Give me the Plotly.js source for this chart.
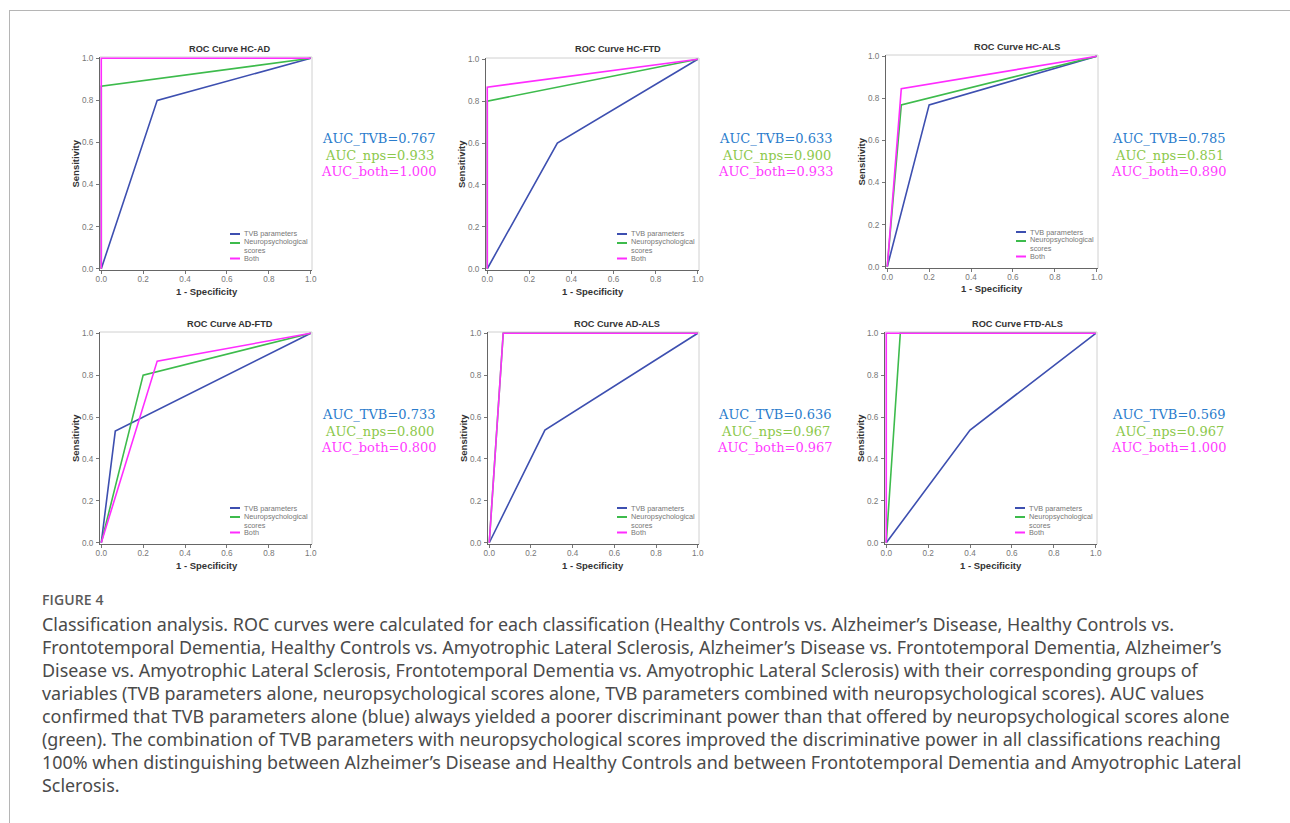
<!DOCTYPE html>
<html>
<head>
<meta charset="utf-8">
<script src="https://cdn.plot.ly/plotly-3.0.1.min.js"></script>
<style>
  html, body { margin:0; padding:0; background:#fff; }
  #wrap { position:relative; width:1290px; height:823px; overflow:hidden; }
  #chart { position:absolute; left:0; top:0; width:1290px; height:823px; }
  #frameTop { position:absolute; left:9px; top:10px; width:1281px; height:1px; background:#b5b5b5; }
  #frameLeft { position:absolute; left:9px; top:10px; width:1px; height:813px; background:#b5b5b5; }
  #figlabel { position:absolute; left:42px; top:590px; font-family:"Open Sans","Noto Sans",sans-serif; font-weight:600; font-size:14px; color:#5a5a5a; letter-spacing:0.1px; }
  #caption { position:absolute; left:42px; top:613px; font-family:"Noto Sans","Open Sans",sans-serif; font-size:17.9px; line-height:23px; color:#4a4a4a; white-space:nowrap; }
</style>
</head>
<body>
<div id="wrap">
  <div id="chart"></div>
  <div id="frameTop"></div>
  <div id="frameLeft"></div>
  <div id="figlabel">FIGURE 4</div>
  <div id="caption">Classification analysis. ROC curves were calculated for each classification (Healthy Controls vs. Alzheimer’s Disease, Healthy Controls vs.<br>Frontotemporal Dementia, Healthy Controls vs. Amyotrophic Lateral Sclerosis, Alzheimer’s Disease vs. Frontotemporal Dementia, Alzheimer’s<br>Disease vs. Amyotrophic Lateral Sclerosis, Frontotemporal Dementia vs. Amyotrophic Lateral Sclerosis) with their corresponding groups of<br>variables (TVB parameters alone, neuropsychological scores alone, TVB parameters combined with neuropsychological scores). AUC values<br>confirmed that TVB parameters alone (blue) always yielded a poorer discriminant power than that offered by neuropsychological scores alone<br>(green). The combination of TVB parameters with neuropsychological scores improved the discriminative power in all classifications reaching<br>100% when distinguishing between Alzheimer’s Disease and Healthy Controls and between Frontotemporal Dementia and Amyotrophic Lateral<br>Sclerosis.</div>
</div>
<script>
// ---------- data ----------
const panelTitles = ['ROC Curve HC-AD', 'ROC Curve HC-FTD', 'ROC Curve HC-ALS',
                     'ROC Curve AD-FTD', 'ROC Curve AD-ALS', 'ROC Curve FTD-ALS'];
const seriesNames = ['TVB parameters', 'Neuropsychological<br>scores', 'Both'];

const tvbFpr  = [[0, 0.267, 1], [0, 0.333, 1], [0, 0.2, 1],   [0, 0.067, 1], [0, 0.267, 1], [0, 0.4, 1]];
const tvbTpr  = [[0, 0.8, 1],   [0, 0.6, 1],   [0, 0.769, 1], [0, 0.533, 1], [0, 0.538, 1], [0, 0.538, 1]];
const npsFpr  = [[0, 0, 1],     [0, 0, 1],     [0, 0.067, 1], [0, 0.2, 1],   [0, 0.067, 1], [0, 0.067, 1]];
const npsTpr  = [[0, 0.867, 1], [0, 0.8, 1],   [0, 0.769, 1], [0, 0.8, 1],   [0, 1, 1],     [0, 1, 1]];
const bothFpr = [[0, 0, 1],     [0, 0, 1],     [0, 0.067, 1], [0, 0.267, 1], [0, 0.067, 1], [0, 0, 1]];
const bothTpr = [[0, 1, 1],     [0, 0.867, 1], [0, 0.846, 1], [0, 0.867, 1], [0, 1, 1],     [0, 1, 1]];

const aucTvb  = ['0.767', '0.633', '0.785', '0.733', '0.636', '0.569'];
const aucNps  = ['0.933', '0.900', '0.851', '0.800', '0.967', '0.967'];
const aucBoth = ['1.000', '0.933', '0.890', '0.800', '0.967', '1.000'];

const tickVals = [0, 0.2, 0.4, 0.6, 0.8, 1.0];
const tickText = ['0.0', '0.2', '0.4', '0.6', '0.8', '1.0'];

// ---------- layout geometry (pixels) ----------
const W = 1290, H = 823;
const boxes = [ // [left, right, top, bottom]
  [100, 312, 57, 270], [486, 699, 58, 270], [886, 1098, 55, 268],
  [100, 312, 332, 544], [488, 699, 332, 544], [885, 1097, 332, 544]
];
const titlePos = [[230, 49], [618, 49], [1017, 47], [230, 324], [617, 324], [1017, 324]];
const xTitlePos = [[207, 292], [593, 292], [992, 288], [207, 565], [593, 565], [991, 565]];
const aucPos = [[379, 138], [776, 138], [1169, 138], [379, 414], [775, 414], [1169, 414]];

const colTvb = '#3d4fb0', colNps = '#3dbb4c', colBoth = '#ff2cff';
const seriesCols = [colTvb, colNps, colBoth];
const aucCol = ['#2a7ccc', '#8cc84b', '#ff3cff'];

const px = x => x / W;
const py = y => 1 - y / H;
const FONT = 'Liberation Sans, Arial, sans-serif';

const traces = [];
const layout = {
  width: W, height: H,
  margin: {l: 0, r: 0, t: 0, b: 0},
  paper_bgcolor: '#fff', plot_bgcolor: '#fff',
  showlegend: false,
  annotations: [], shapes: []
};

for (let i = 0; i < 6; i++) {
  const n = i + 1;
  const xa = 'x' + (n === 1 ? '' : n), ya = 'y' + (n === 1 ? '' : n);
  const xk = 'xaxis' + (n === 1 ? '' : n), yk = 'yaxis' + (n === 1 ? '' : n);
  const b = boxes[i];
  const axisCommon = {
    range: [-0.006, 1.006], tickvals: tickVals, ticktext: tickText,
    ticks: 'outside', ticklen: 3, tickwidth: 1, tickcolor: '#777',
    showgrid: false, zeroline: false, showline: true, linecolor: '#666', linewidth: 1,
    tickfont: {family: FONT, size: 8.2, color: '#777'},
    fixedrange: true
  };
  layout[xk] = Object.assign({}, axisCommon, {domain: [px(b[0]), px(b[1])], anchor: ya, ticklabelstandoff: -2});
  layout[yk] = Object.assign({}, axisCommon, {domain: [py(b[3]), py(b[2])], anchor: xa, ticklabelstandoff: 1});

  // light frame on top/right
  layout.shapes.push({type: 'line', xref: xa + ' domain', yref: ya + ' domain', x0: 0, x1: 1, y0: 1, y1: 1,
                      line: {color: '#d0d0d0', width: 1}, layer: 'below'});
  layout.shapes.push({type: 'line', xref: xa + ' domain', yref: ya + ' domain', x0: 1, x1: 1, y0: 0, y1: 1,
                      line: {color: '#d0d0d0', width: 1}, layer: 'below'});

  const series = [[tvbFpr[i], tvbTpr[i]], [npsFpr[i], npsTpr[i]], [bothFpr[i], bothTpr[i]]];
  series.forEach((s, k) => {
    traces.push({
      type: 'scatter', mode: 'lines', x: s[0], y: s[1], xaxis: xa, yaxis: ya,
      name: seriesNames[k], showlegend: false,
      line: {color: seriesCols[k], width: 1.6}, hoverinfo: 'skip'
    });
  });

  // compact in-plot legend (lower right)
  const legSwY = [b[3] - 36, b[3] - 27, b[3] - 11.5];
  const legTxtY = [b[3] - 36, b[3] - 23.5, b[3] - 11.5];
  for (let k = 0; k < 3; k++) {
    layout.shapes.push({type: 'line', xref: 'paper', yref: 'paper',
      x0: px(b[1] - 82), x1: px(b[1] - 72), y0: py(legSwY[k]), y1: py(legSwY[k]),
      line: {color: seriesCols[k], width: 2}});
    layout.annotations.push({
      xref: 'paper', yref: 'paper', x: px(b[1] - 70), y: py(legTxtY[k]),
      xanchor: 'left', yanchor: 'middle', align: 'left', showarrow: false, text: seriesNames[k],
      font: {family: FONT, size: 7.3, color: '#777'}
    });
  }

  layout.annotations.push({
    xref: 'paper', yref: 'paper', x: px(titlePos[i][0]), y: py(titlePos[i][1]),
    xanchor: 'center', yanchor: 'middle', showarrow: false, text: '<b>' + panelTitles[i] + '</b>',
    font: {family: FONT, size: 9.2, color: '#333'}
  });
  layout.annotations.push({
    xref: 'paper', yref: 'paper', x: px(xTitlePos[i][0]), y: py(xTitlePos[i][1]),
    xanchor: 'center', yanchor: 'middle', showarrow: false, text: '<b>1 - Specificity</b>',
    font: {family: FONT, size: 9.5, color: '#333'}
  });
  layout.annotations.push({
    xref: 'paper', yref: 'paper', x: px(b[0] - 25), y: py((b[2] + b[3]) / 2),
    xanchor: 'center', yanchor: 'middle', showarrow: false, textangle: -90, text: '<b>Sensitivity</b>',
    font: {family: FONT, size: 9.5, color: '#333'}
  });
  const aucTexts = ['AUC_TVB=' + aucTvb[i], 'AUC_nps=' + aucNps[i], 'AUC_both=' + aucBoth[i]];
  const dy = [0, 17, 33.5];
  aucTexts.forEach((t, k) => {
    layout.annotations.push({
      xref: 'paper', yref: 'paper', x: px(aucPos[i][0]), y: py(aucPos[i][1] + dy[k]),
      xanchor: 'center', yanchor: 'middle', showarrow: false, text: t,
      font: {family: 'DejaVu Serif, serif', size: 13, color: aucCol[k]}
    });
  });
}

Plotly.newPlot('chart', traces, layout, {displayModeBar: false, staticPlot: true});
</script>
</body>
</html>
